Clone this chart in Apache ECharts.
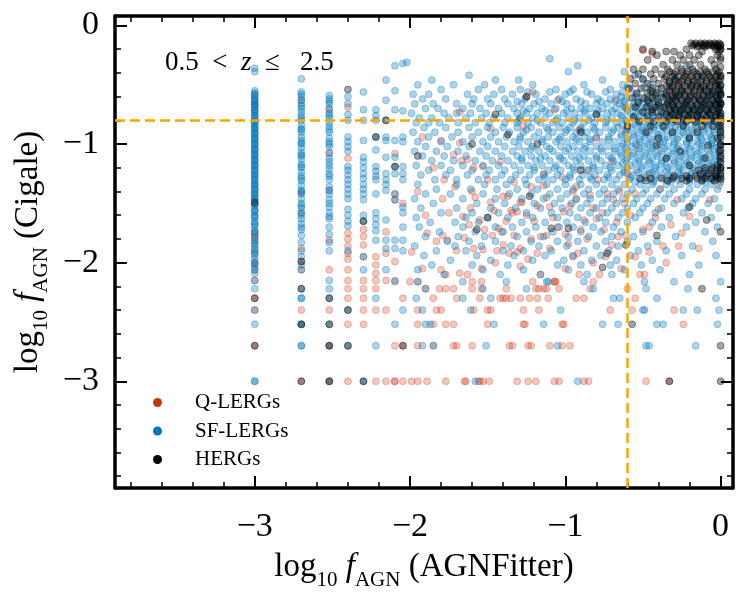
<!DOCTYPE html>
<html>
<head>
<meta charset="UTF-8">
<title>fAGN AGNFitter vs Cigale</title>
<script src="https://cdn.jsdelivr.net/npm/echarts@6.0.0/dist/echarts.min.js"></script>
<style>
    *{margin:0;padding:0}
    html,body{width:100%;height:100%;background:#fff}
    #main{width:747px;height:603px}
</style>
</head>
<body>
<div id="main"></div>
<script type="text/javascript">
// axis ranges and ticks (log10 fAGN)
var xRange = [-3.9, 0.08];
var yRange = [-3.9, 0.08];
var majorTicks = [-3, -2, -1, 0];
var minorTicks = [-3.8, -3.6, -3.4, -3.2, -2.8, -2.6, -2.4, -2.2, -1.8, -1.6, -1.4, -1.2, -0.8, -0.6, -0.4, -0.2];
var cutX = -0.6, cutY = -0.8;

// discrete AGNFitter columns at low fAGN: [x, [y...]]
var sfCols = [
    [-3.0, [-0.36,-0.39,-0.55,-0.57,-0.59,-0.61,-0.62,-0.64,-0.66,-0.67,-0.69,-0.71,-0.73,-0.74,-0.76,-0.78,-0.8,-0.81,-0.83,-0.85,-0.87,-0.88,-0.9,-0.92,-0.94,-0.95,-0.97,-0.99,-1.01,-1.03,-1.05,-1.06,-1.08,-1.1,-1.12,-1.14,-1.15,-1.17,-1.19,-1.21,-1.23,-1.25,-1.27,-1.29,-1.31,-1.33,-1.35,-1.37,-1.39,-1.41,-1.43,-1.45,-1.47,-1.5,-1.52,-1.55,-1.57,-1.6,-1.62,-1.65,-1.67,-1.7,-1.73,-1.76,-1.79,-1.82,-1.85,-1.88,-1.91,-1.94,-1.97,-2.0,-2.03,-2.06,-2.09,-2.15,-2.22,-2.4,-2.52,-3.0]],
    [-3.0, [-0.58,-0.63,-0.68,-0.72,-0.77,-0.82,-0.86,-0.91,-0.96,-1.0,-1.04,-1.09,-1.13,-1.18,-1.22,-1.26,-1.3,-1.34,-1.38,-1.42,-1.46,-1.51,-1.56,-1.61,-1.68,-1.75,-1.84,-1.92,-2.01,-3.0]],
    [-2.7, [-0.45,-0.56,-0.6,-0.63,-0.66,-0.7,-0.73,-0.76,-0.8,-0.84,-0.87,-0.9,-0.94,-0.97,-1.0,-1.03,-1.07,-1.1,-1.13,-1.17,-1.2,-1.24,-1.27,-1.31,-1.35,-1.39,-1.42,-1.46,-1.5,-1.54,-1.58,-1.63,-1.67,-1.72,-1.77,-1.83,-1.9,-1.95,-2.02,-2.06,-2.22,-2.3,-2.52,-2.7]],
    [-2.7, [-0.58,-0.68,-0.78,-0.88,-0.99,-1.09,-1.19,-1.29,-1.4,-1.52,-1.6,-1.7,-2.3,-2.52,-2.7]],
    [-2.52, [-0.59,-0.62,-0.66,-0.7,-0.74,-0.78,-0.82,-0.85,-0.9,-0.95,-0.98,-1.02,-1.07,-1.12,-1.18,-1.21,-1.25,-1.3,-1.36,-1.42,-1.47,-1.53,-1.58,-1.63,-1.7,-1.76,-1.83,-1.9,-2.15,-2.22,-2.3,-2.52,-2.7,-3.0]],
    [-2.52, [-0.64,-0.76,-0.88,-1.0,-1.15,-1.27,-1.39,-1.5,-1.61]],
    [-2.4, [-0.6,-0.66,-0.75,-0.8,-0.94,-0.98,-1.02,-1.06,-1.19,-1.22,-1.26,-1.3,-1.34,-1.38,-1.42,-1.46,-1.55,-1.6,-1.65,-1.69,-1.9,-2.4,-2.7]],
    [-2.3, [-0.56,-0.71,-0.8,-0.97,-1.11,-1.15,-1.2,-1.25,-1.29,-1.34,-1.38,-1.42,-1.47,-1.6,-1.65,-1.95,-2.06,-3.0]],
    [-2.22, [-0.71,-0.76,-0.8,-0.94,-1.05,-1.19,-1.23,-1.27,-1.3,-1.42,-1.58,-1.63,-1.68,-1.73,-1.81,-2.3,-2.7]],
    [-2.155, [-0.46,-0.63,-0.8,-0.94,-0.97,-1.11,-1.25,-1.3,-1.34,-1.39,-1.64,-1.81,-1.88,-2.06]],
    [-2.097, [-0.34,-0.55,-0.71,-0.97,-1.11,-1.19,-1.25,-1.42,-1.47,-1.81,-1.88,-2.16,-2.52]],
    [-2.046, [-0.32,-0.72,-0.94,-0.98,-1.19,-1.25,-1.3,-1.53,-1.58,-1.7,-1.81,-1.9,-2.4]]
];
var qCols = [
    [-3.0, [-0.66,-1.74,-1.78,-1.81,-1.89,-2.0,-2.06,-2.15,-2.3,-2.4,-2.7]],
    [-2.7, [-0.63,-1.41,-1.58,-1.88,-1.99,-2.06,-2.4,-3.0]],
    [-2.52, [-0.71,-1.08,-1.39,-1.81,-2.06,-2.4,-2.7,-3.0]],
    [-2.4, [-0.69,-1.12,-1.75,-1.8,-1.86,-1.92,-1.97,-2.06,-2.15,-2.22,-2.3,-2.52,-3.0]],
    [-2.3, [-1.72,-1.78,-1.85,-1.95,-2.15,-2.22,-2.3,-2.4,-2.52]],
    [-2.22, [-1.95,-2.02,-2.09,-2.15,-2.22,-2.4,-3.0]],
    [-2.155, [-1.74,-1.92,-2.15,-2.4,-3.0]],
    [-2.097, [-1.08,-1.42,-1.47,-1.99,-2.15,-2.7,-3.0]],
    [-2.046, [-1.5,-2.3,-2.7,-3.0]]
];
var hCols = [
    [-3.0, [-1.49,-2.3,-2.7]],
    [-2.7, [-1.99,-2.22,-2.52,-3.0]],
    [-2.52, [-2.3,-2.52,-2.7,-3.0]],
    [-2.4, [-0.54,-2.4,-2.7]],
    [-2.3, [-1.65,-3.0]],
    [-2.22, [-0.94]],
    [-2.155, [-0.8]],
    [-2.097, [-1.19]],
    [-2.046, [-2.7]],
    [0.0, [-0.2,-0.27,-0.35,-0.42,-0.5,-0.58,-0.66,-0.74,-0.82,-0.88,-0.94,-1.0,-1.05,-1.1,-1.15,-1.2,-1.27]]
];

// continuous part, read row by row: [y, [x...]]
var sfRows = [
    [-0.28, [-1.1]],
    [-0.31, [-2.02]],
    [-0.34, [-0.92,-0.22]],
    [-0.39, [-0.98,-0.62]],
    [-0.42, [-1.62,-0.55,-0.12]],
    [-0.46, [-1.86,-1.45,-1.3,-0.76,-0.5,-0.3,-0.04]],
    [-0.50, [-1.95,-1.72,-1.52,-1.21,-0.88,-0.63,-0.45,-0.18,-0.02]],
    [-0.54, [-1.8,-1.56,-1.41,-1.29,-1.06,-0.95,-0.71,-0.58,-0.4,-0.1,0.0]],
    [-0.58, [-1.98,-1.88,-1.63,-1.46,-1.34,-1.19,-1.0,-0.83,-0.67,-0.54,-0.36,-0.27,-0.06,0.0]],
    [-0.62, [-1.92,-1.77,-1.59,-1.5,-1.39,-1.26,-1.13,-1.04,-0.93,-0.79,-0.71,-0.61,-0.49,-0.41,-0.31,-0.14,-0.03]],
    [-0.66, [-1.97,-1.85,-1.7,-1.6,-1.48,-1.37,-1.28,-1.2,-1.09,-0.99,-0.87,-0.8,-0.73,-0.65,-0.56,-0.51,-0.44,-0.34,-0.23,-0.11,-0.05,0.0]],
    [-0.70, [-1.9,-1.82,-1.66,-1.55,-1.43,-1.33,-1.23,-1.15,-1.06,-0.96,-0.9,-0.84,-0.76,-0.68,-0.61,-0.54,-0.47,-0.39,-0.3,-0.25,-0.16,-0.08,-0.01]],
    [-0.74, [-1.99,-1.78,-1.7,-1.61,-1.51,-1.41,-1.31,-1.25,-1.18,-1.1,-1.01,-0.94,-0.87,-0.8,-0.73,-0.66,-0.58,-0.51,-0.44,-0.37,-0.29,-0.21,-0.14,-0.07,0.0]],
    [-0.78, [-1.94,-1.86,-1.75,-1.64,-1.54,-1.46,-1.37,-1.29,-1.21,-1.13,-1.05,-0.98,-0.91,-0.83,-0.77,-0.7,-0.63,-0.56,-0.49,-0.42,-0.35,-0.27,-0.19,-0.12,-0.04]],
    [-0.82, [-1.96,-1.88,-1.81,-1.69,-1.58,-1.49,-1.39,-1.31,-1.24,-1.16,-1.08,-1.02,-0.95,-0.88,-0.81,-0.74,-0.67,-0.6,-0.53,-0.46,-0.39,-0.32,-0.25,-0.17,-0.09,-0.02]],
    [-0.86, [-1.91,-1.77,-1.62,-1.5,-1.4,-1.31,-1.22,-1.12,-1.04,-0.97,-0.9,-0.82,-0.74,-0.66,-0.57,-0.5,-0.43,-0.36,-0.29,-0.22,-0.15,-0.08,-0.01]],
    [-0.90, [-1.98,-1.84,-1.69,-1.56,-1.45,-1.36,-1.27,-1.17,-1.08,-1.0,-0.93,-0.86,-0.78,-0.7,-0.61,-0.53,-0.46,-0.38,-0.31,-0.24,-0.18,-0.11,-0.04]],
    [-0.94, [-1.88,-1.73,-1.6,-1.48,-1.38,-1.29,-1.2,-1.11,-1.03,-0.95,-0.88,-0.8,-0.72,-0.64,-0.56,-0.49,-0.41,-0.34,-0.27,-0.2,-0.13,-0.06,0.0]],
    [-0.98, [-1.95,-1.8,-1.66,-1.53,-1.43,-1.33,-1.24,-1.15,-1.06,-0.99,-0.91,-0.84,-0.76,-0.68,-0.6,-0.52,-0.45,-0.37,-0.3,-0.22,-0.15,-0.09,-0.02]],
    [-1.02, [-1.9,-1.76,-1.62,-1.5,-1.39,-1.3,-1.21,-1.12,-1.03,-0.95,-0.87,-0.8,-0.72,-0.64,-0.57,-0.49,-0.42,-0.34,-0.27,-0.19,-0.12,-0.05]],
    [-1.06, [-1.97,-1.83,-1.69,-1.55,-1.45,-1.34,-1.26,-1.17,-1.08,-1.0,-0.92,-0.84,-0.76,-0.68,-0.6,-0.53,-0.45,-0.38,-0.3,-0.23,-0.16,-0.08,0.0]],
    [-1.10, [-1.92,-1.78,-1.64,-1.51,-1.41,-1.31,-1.22,-1.13,-1.04,-0.96,-0.88,-0.8,-0.72,-0.64,-0.57,-0.49,-0.41,-0.34,-0.26,-0.19,-0.12,-0.04]],
    [-1.14, [-1.86,-1.72,-1.58,-1.47,-1.37,-1.28,-1.19,-1.1,-1.01,-0.93,-0.85,-0.77,-0.69,-0.61,-0.53,-0.46,-0.38,-0.3,-0.23,-0.15,-0.08,-0.01]],
    [-1.18, [-1.96,-1.8,-1.66,-1.53,-1.43,-1.33,-1.24,-1.15,-1.06,-0.98,-0.9,-0.82,-0.74,-0.66,-0.58,-0.5,-0.42,-0.35,-0.27,-0.2,-0.12,-0.05]],
    [-1.22, [-1.88,-1.74,-1.6,-1.49,-1.39,-1.29,-1.2,-1.11,-1.03,-0.94,-0.86,-0.78,-0.7,-0.62,-0.54,-0.46,-0.39,-0.31,-0.24,-0.16,-0.09,-0.02]],
    [-1.26, [-1.93,-1.77,-1.63,-1.51,-1.41,-1.32,-1.23,-1.14,-1.05,-0.97,-0.89,-0.81,-0.73,-0.65,-0.57,-0.49,-0.42,-0.34,-0.26,-0.19,-0.11,-0.04]],
    [-1.30, [-1.84,-1.7,-1.56,-1.45,-1.35,-1.26,-1.17,-1.08,-1.0,-0.91,-0.83,-0.75,-0.67,-0.59,-0.51,-0.43,-0.35,-0.27,-0.2,-0.12,-0.05,0.0]],
    [-1.34, [-1.95,-1.7,-1.52,-1.38,-1.25,-1.12,-1.0,-0.9,-0.8,-0.7,-0.62,-0.52,-0.44,-0.35,-0.26,-0.15,-0.06]],
    [-1.38, [-1.83,-1.61,-1.44,-1.31,-1.18,-1.05,-0.95,-0.85,-0.75,-0.66,-0.57,-0.48,-0.39,-0.3,-0.2,-0.1,-0.02]],
    [-1.42, [-1.9,-1.74,-1.53,-1.36,-1.22,-1.1,-0.99,-0.88,-0.78,-0.69,-0.6,-0.5,-0.41,-0.33,-0.22,-0.12]],
    [-1.46, [-1.97,-1.66,-1.45,-1.28,-1.14,-1.03,-0.93,-0.84,-0.73,-0.63,-0.54,-0.45,-0.36,-0.25,-0.16,-0.04]],
    [-1.50, [-1.85,-1.57,-1.39,-1.2,-1.07,-0.96,-0.86,-0.76,-0.67,-0.56,-0.47,-0.3,-0.18,-0.08]],
    [-1.54, [-1.93,-1.7,-1.48,-1.32,-1.16,-1.02,-0.9,-0.8,-0.7,-0.6,-0.5,-0.38,-0.21,-0.01]],
    [-1.58, [-1.8,-1.6,-1.43,-1.25,-1.09,-0.97,-0.84,-0.73,-0.63,-0.52,-0.42,-0.24,-0.12]],
    [-1.62, [-1.96,-1.64,-1.5,-1.37,-1.21,-1.05,-0.92,-0.78,-0.66,-0.55,-0.33,-0.06]],
    [-1.66, [-1.87,-1.71,-1.56,-1.28,-1.13,-0.99,-0.87,-0.74,-0.6,-0.44,-0.16]],
    [-1.70, [-1.94,-1.66,-1.45,-1.34,-1.19,-1.04,-0.95,-0.82,-0.69,-0.38,-0.22,-0.02]],
    [-1.74, [-1.81,-1.58,-1.4,-1.25,-1.08,-0.9,-0.77,-0.64,-0.5,-0.1]],
    [-1.78, [-1.9,-1.69,-1.52,-1.31,-1.14,-0.98,-0.85,-0.7,-0.56,-0.29]],
    [-1.82, [-1.76,-1.62,-1.45,-1.22,-1.05,-0.92,-0.74,-0.6,-0.41,-0.05]],
    [-1.86, [-1.97,-1.71,-1.54,-1.35,-1.17,-0.99,-0.8,-0.66,-0.47,-0.18]],
    [-1.90, [-1.83,-1.64,-1.4,-1.27,-1.09,-0.88,-0.72,-0.53,-0.35]],
    [-1.94, [-1.91,-1.57,-1.33,-1.13,-0.95,-0.77,-0.58,-0.25,-0.03]],
    [-1.98, [-1.74,-1.48,-1.21,-1.01,-0.83,-0.67,-0.44]],
    [-2.02, [-1.86,-1.6,-1.37,-1.05,-0.9,-0.71,-0.51,-0.14]],
    [-2.06, [-1.95,-1.53,-1.27,-0.98,-0.62,-0.39]],
    [-2.10, [-1.78,-1.42,-1.16,-0.86,-0.7,-0.2]],
    [-2.16, [-1.95,-1.66,-1.38,-1.12,-1.11,-0.88,-0.49,-0.3,0.0]],
    [-2.22, [-1.9,-1.53,-1.25,-0.82,-0.48,-0.21]],
    [-2.30, [-1.96,-1.66,-1.48,-0.69,-0.65,-0.41,-0.03]],
    [-2.40, [-1.92,-1.61,-1.03,-0.5,-0.49,-0.24,-0.15,-0.01]],
    [-2.52, [-1.9,-1.87,-1.46,-1.14,-0.76,-0.66,-0.41,-0.37,-0.02]],
    [-2.70, [-1.92,-1.85,-1.51,-1.05,-0.48,-0.46,-0.16]],
    [-3.00, [-1.58,-0.92]]
];
// extra SF-LERGs in the crowded middle and right of the cloud
var sfMidRows = [
    [-0.56, [-1.24,-1.1,-0.97,-0.86,-0.74]],
    [-0.64, [-1.31,-1.17,-1.02,-0.9,-0.77,-0.68]],
    [-0.72, [-1.27,-1.13,-0.99,-0.88,-0.79,-0.7]],
    [-0.80, [-1.3,-1.18,-1.06,-0.94,-0.85,-0.73]],
    [-0.88, [-1.25,-1.11,-0.99,-0.9,-0.81,-0.69]],
    [-0.96, [-1.29,-1.15,-1.04,-0.93,-0.84,-0.72]],
    [-1.04, [-1.22,-1.1,-0.98,-0.88,-0.77,-0.68]],
    [-1.12, [-1.28,-1.16,-1.03,-0.91,-0.8,-0.7]],
    [-1.20, [-1.2,-1.07,-0.95,-0.82,-0.71]],
    [-1.28, [-1.13,-0.97,-0.84,-0.72]]
];
var sfRightRows = [
    [-0.52, [-0.6,-0.49,-0.33,-0.13]],
    [-0.56, [-0.63,-0.44,-0.25,-0.05]],
    [-0.60, [-0.64,-0.55,-0.46,-0.38,-0.29,-0.19,-0.09]],
    [-0.64, [-0.62,-0.53,-0.42,-0.32,-0.22,-0.12,-0.02]],
    [-0.68, [-0.63,-0.56,-0.47,-0.39,-0.3,-0.21,-0.13,-0.06]],
    [-0.72, [-0.6,-0.52,-0.43,-0.35,-0.26,-0.18,-0.1,-0.03]],
    [-0.76, [-0.64,-0.55,-0.47,-0.39,-0.31,-0.23,-0.15,-0.07,0.0]],
    [-0.80, [-0.61,-0.53,-0.45,-0.37,-0.29,-0.21,-0.13,-0.05]],
    [-0.84, [-0.63,-0.55,-0.47,-0.4,-0.32,-0.24,-0.16,-0.08,-0.01]],
    [-0.88, [-0.6,-0.51,-0.43,-0.35,-0.27,-0.19,-0.11,-0.04]],
    [-0.92, [-0.64,-0.56,-0.48,-0.4,-0.31,-0.23,-0.15,-0.07,0.0]],
    [-0.96, [-0.6,-0.52,-0.44,-0.36,-0.28,-0.2,-0.12,-0.05]],
    [-1.00, [-0.63,-0.55,-0.47,-0.39,-0.3,-0.22,-0.14,-0.06,0.0]],
    [-1.04, [-0.61,-0.52,-0.44,-0.36,-0.28,-0.2,-0.12,-0.04]],
    [-1.08, [-0.64,-0.56,-0.48,-0.4,-0.31,-0.23,-0.15,-0.07,0.0]],
    [-1.12, [-0.6,-0.52,-0.44,-0.35,-0.27,-0.19,-0.11,-0.03]],
    [-1.16, [-0.63,-0.55,-0.46,-0.38,-0.3,-0.22,-0.14,-0.06,0.0]],
    [-1.20, [-0.6,-0.51,-0.42,-0.34,-0.26,-0.18,-0.1,-0.02]],
    [-1.24, [-0.62,-0.53,-0.44,-0.35,-0.27,-0.19,-0.11,-0.04]],
    [-1.28, [-0.58,-0.48,-0.39,-0.3,-0.21,-0.12,-0.05]],
    [-1.32, [-0.55,-0.43,-0.32,-0.2,-0.1,0.0]]
];
var qPts = [
    [-1.67,-1.14],[-1.59,-1.2],[-1.53,-1.19],[-1.42,-1.15],[-1.71,-1.36],[-1.79,-1.46],[-1.75,-1.58],[-1.66,-1.61],
    [-1.61,-1.54],[-1.55,-1.64],[-1.48,-1.49],[-1.4,-1.44],[-1.35,-1.56],[-1.31,-1.57],[-1.28,-1.49],[-1.43,-1.71],
    [-1.33,-1.77],[-1.29,-1.88],[-1.79,-1.77],[-1.65,-1.79],[-1.59,-1.88],[-1.53,-1.89],[-1.47,-1.77],[-1.41,-1.74],
    [-1.36,-1.92],[-1.31,-1.91],[-1.18,-1.92],[-1.16,-1.78],[-1.12,-1.77],[-1.1,-1.53],[-1.01,-1.57],[-0.95,-1.4],
    [-0.93,-1.47],[-0.88,-1.64],[-0.82,-1.54],[-0.8,-1.63],[-0.73,-1.42],[-0.69,-1.47],[-0.65,-1.4],[-0.61,-1.77],
    [-0.5,-1.72],[-0.46,-1.7],[-0.28,-1.47],[-0.2,-1.61],[-0.07,-1.47],[-0.01,-1.35],[-1.0,-2.05],[-1.16,-2.1],
    [-1.07,-2.16],[-0.91,-2.1],[-1.63,-2.1],[-1.77,-2.1],[-1.54,-2.05],[-0.82,-2.0],[-1.29,-2.03],[-0.52,-2.1],
    [-0.49,-2.1],[-0.35,-2.0],[-0.46,-1.91],[-0.37,-1.86],[-0.27,-1.86],[-1.72,-1.09],[-1.68,-0.99],[-1.48,-0.87],
    [-1.27,-0.85],[-1.8,-0.97],[-0.91,-0.88],[-0.8,-0.95],[-0.61,-0.88],[-0.5,-0.21],[-0.44,-0.24],[-1.21,-0.56],
    [-1.25,-0.6],[-1.05,-0.63],[-1.07,-0.71],[-0.67,-0.63],[-0.61,-0.69],[-1.29,-0.78],[-0.54,-1.01],[-0.46,-1.25],
    [-1.14,-1.25],[-0.93,-1.36],[-1.34,-1.58],[-1.29,-1.49],[-1.92,-0.94],[-1.68,-0.73],[-1.89,-1.75],[-1.83,-1.82],
    [-1.76,-1.81],[-1.78,-1.3],[-1.63,-1.13],[-1.99,-1.91],[-1.92,-2.05],[-1.8,-2.06],[-1.68,-2.09],[-1.2,-1.65],
    [-1.05,-1.7],[-0.98,-1.84],[-0.86,-1.8],[-0.75,-1.72],[-0.7,-1.85],[-0.58,-1.6],[-0.55,-1.95],[-0.4,-1.55],
    [-0.32,-1.68],[-1.45,-2.0],[-1.38,-1.65],[-1.22,-1.36],[-1.5,-1.3],[-1.6,-1.4],[-0.85,-1.22],[-0.7,-1.15],
    [-0.39,-1.38],[-0.25,-1.75],[-0.14,-1.88],[-1.12,-1.45],[-1.02,-1.28],[-1.9,-1.6],[-1.85,-1.2],[-1.95,-1.4],
    [-0.95,-1.95],[-1.24,-1.97],[-1.4,-1.85],[-0.64,-2.05],[-0.78,-2.1],
    [-1.58,-1.45],[-1.46,-1.56],[-1.37,-1.44],[-1.25,-1.6],[-1.18,-1.52],[-1.08,-1.62],[-0.97,-1.52],[-0.9,-1.72],
    [-0.84,-1.43],[-0.76,-1.58],[-0.67,-1.66],[-0.62,-1.5],[-0.55,-1.42],[-1.52,-1.72],[-1.44,-1.9],[-1.22,-1.8],
    [-1.1,-1.88],[-1.0,-1.76],[-0.92,-1.92],[-0.74,-1.95],[-0.66,-1.78],[-1.7,-1.9],[-1.62,-1.68],[-1.33,-1.32],
    [-1.14,-1.35],[-0.79,-1.3],[-0.6,-1.25],[-0.42,-1.62]
];
var qRows = [
    [-2.16, [-2.0,-1.95,-1.6,-1.54,-1.21,-1.07,-1.06,-0.82]],
    [-2.22, [-1.9,-1.81,-1.77,-1.72,-1.6,-1.54,-1.38,-1.19,-1.17,-1.14,-1.12,-1.04,-0.84,-0.6]],
    [-2.30, [-1.85,-1.7,-1.55,-1.42,-1.4,-1.38,-1.35,-1.29,-1.23,-1.18,-1.11,-0.93,-0.88,-0.55]],
    [-2.40, [-1.95,-1.83,-1.8,-1.59,-1.5,-1.48,-1.27,-1.17,-0.71,-0.57,-0.3]],
    [-2.52, [-1.95,-1.85,-1.77,-1.72,-1.5,-1.27,-1.26,-1.02,-1.01,-0.24]],
    [-2.70, [-1.95,-1.85,-1.72,-1.7,-1.6,-1.36,-1.34,-1.24,-1.22,-1.1,-1.02,-0.97]],
    [-3.00, [-2.1,-1.99,-1.95,-1.89,-1.77,-1.65,-1.64,-1.56,-1.55,-1.53,-1.49,-1.31,-1.24,-1.19,-1.07,-1.04,-0.88,-0.85,-0.48,-0.33]]
];
var hRows = [
    [-0.15, [-0.19,-0.16,-0.13,-0.1,-0.07,-0.04,-0.01]],
    [-0.16, [-0.17,-0.12,-0.09,-0.06,-0.03,0.0]],
    [-0.17, [-0.18,-0.14,-0.11,-0.08,-0.05,-0.02,0.0]],
    [-0.18, [-0.15,-0.1,-0.04,-0.01]],
    [-0.20, [-0.5,-0.22,-0.03,0.0]],
    [-0.22, [-0.44,-0.35,-0.3,-0.12,-0.01]],
    [-0.25, [-0.41,-0.26,-0.2,-0.14,-0.02]],
    [-0.29, [-0.47,-0.31,-0.24,-0.17,-0.06,0.0]],
    [-0.33, [-0.37,-0.28,-0.2,-0.13,-0.04]],
    [-0.37, [-0.56,-0.5,-0.42,-0.34,-0.25,-0.18,-0.1,-0.03]],
    [-0.39, [-0.33,-0.29,-0.25,-0.21,-0.17,-0.13,-0.09,-0.05,-0.01]],
    [-0.41, [-0.53,-0.45,-0.38,-0.3,-0.22,-0.15,-0.08,-0.02]],
    [-0.43, [-0.35,-0.31,-0.27,-0.23,-0.19,-0.15,-0.11,-0.07,-0.03,0.0]],
    [-0.45, [-0.58,-0.5,-0.43,-0.36,-0.29,-0.24,-0.18,-0.12,-0.06,0.0]],
    [-0.47, [-0.33,-0.29,-0.25,-0.21,-0.17,-0.13,-0.09,-0.05,-0.01]],
    [-0.49, [-0.55,-0.47,-0.4,-0.33,-0.27,-0.21,-0.15,-0.09,-0.03]],
    [-0.51, [-0.35,-0.31,-0.27,-0.23,-0.19,-0.15,-0.11,-0.07,-0.03,0.0]],
    [-0.53, [-0.59,-0.51,-0.44,-0.38,-0.31,-0.25,-0.19,-0.13,-0.07,-0.01]],
    [-0.55, [-0.45,-0.33,-0.29,-0.25,-0.21,-0.17,-0.13,-0.09,-0.05,-0.01]],
    [-0.57, [-0.54,-0.47,-0.41,-0.35,-0.29,-0.23,-0.17,-0.11,-0.05,0.0]],
    [-0.59, [-0.42,-0.35,-0.31,-0.27,-0.23,-0.19,-0.15,-0.11,-0.07,-0.03,0.0]],
    [-0.61, [-0.57,-0.5,-0.44,-0.37,-0.31,-0.26,-0.2,-0.14,-0.08,-0.02]],
    [-0.63, [-0.47,-0.33,-0.29,-0.25,-0.21,-0.17,-0.13,-0.09,-0.05,-0.01]],
    [-0.65, [-0.53,-0.46,-0.4,-0.34,-0.28,-0.22,-0.16,-0.1,-0.04,0.0]],
    [-0.67, [-0.4,-0.35,-0.31,-0.27,-0.23,-0.19,-0.15,-0.11,-0.07,-0.03,0.0]],
    [-0.69, [-0.55,-0.48,-0.42,-0.36,-0.3,-0.24,-0.18,-0.12,-0.06,-0.01]],
    [-0.71, [-0.44,-0.33,-0.29,-0.25,-0.21,-0.17,-0.13,-0.09,-0.05,-0.01]],
    [-0.73, [-0.5,-0.44,-0.38,-0.32,-0.26,-0.2,-0.14,-0.08,-0.02]],
    [-0.75, [-0.35,-0.31,-0.27,-0.23,-0.19,-0.15,-0.11,-0.07,-0.03]],
    [-0.77, [-0.56,-0.47,-0.4,-0.33,-0.27,-0.21,-0.15,-0.09,-0.03,0.0]],
    [-0.79, [-0.3,-0.24,-0.18,-0.12,-0.06,0.0]],
    [-0.81, [-0.52,-0.43,-0.35,-0.28,-0.22,-0.16,-0.1,-0.04]],
    [-0.85, [-0.6,-0.45,-0.37,-0.24,-0.12,-0.05,0.0]],
    [-0.90, [-0.9,-0.48,-0.31,-0.15,0.0]],
    [-0.95, [-0.4,-0.2,-0.02]],
    [-1.01, [-0.41,-0.08,0.0]],
    [-1.06, [-0.26,-0.01]],
    [-1.12, [-0.35,-0.1,0.0]],
    [-1.18, [-0.2,-0.02]],
    [-1.20, [-0.1,-0.05,0.0]],
    [-1.22, [-0.9,-0.14,-0.06,0.0]],
    [-1.25, [-0.13,-0.08,-0.03,0.0]],
    [-1.27, [-0.3,-0.22,-0.16,-0.09,-0.03]],
    [-1.29, [-0.52,-0.45,-0.38,-0.31,-0.25,-0.2,-0.15,-0.1,-0.06,-0.02,0.0]],
    [-1.31, [-0.48,-0.34,-0.22,-0.12,-0.04]],
    [-0.92, [-1.37]],
    [-1.00, [-1.6,-1.18]],
    [-0.75, [-1.45,-0.8]],
    [-0.60, [-1.25]],
    [-1.10, [-1.95]],
    [-1.44, [-1.23]],
    [-1.53, [-0.2]],
    [-1.62, [-1.5]],
    [-1.64, [-0.09]],
    [-1.71, [-1.09,-0.98]],
    [-1.72, [-1.57]],
    [-1.74, [0.0]],
    [-1.77, [-0.41]],
    [-1.85, [-0.61]],
    [-1.92, [-0.73]],
    [-2.04, [-0.76]],
    [-2.22, [-0.12]],
    [-2.52, [-0.57]],
    [-2.70, [0.0]],
    [-3.00, [-0.33,0.0]]
];

var FONT = 'Liberation Serif';
var NB = '\u00a0';

function fromCols(out, cols) {
    cols.forEach(function (c) { c[1].forEach(function (y) { out.push([c[0], y]); }); });
    return out;
}
function fromRows(out, rows) {
    rows.forEach(function (r) { r[1].forEach(function (x) { out.push([x, r[0]]); }); });
    return out;
}
var qData = fromRows(fromCols(qPts.slice(), qCols), qRows);
var sfData = fromRows(fromRows(fromRows(fromCols([], sfCols), sfRows), sfMidRows), sfRightRows);
var hData = fromRows(fromCols([], hCols), hRows);

function minus(v) { return v < 0 ? '\u2212' + (-v) : String(v); }

var nameRich = {
    r: {fontSize: 33, fontFamily: FONT, color: '#000', lineHeight: 36},
    i: {fontSize: 33, fontFamily: FONT, fontStyle: 'italic', color: '#000', lineHeight: 36},
    s: {fontSize: 21, fontFamily: FONT, color: '#000', verticalAlign: 'top', padding: [21, 0, 0, 0], lineHeight: 21}
};

function xAx(pos, major, main) {
    var a = {
        type: 'value', position: pos, min: xRange[0], max: xRange[1],
        axisLine: {show: major, onZero: false, lineStyle: {color: '#000', width: 3.5}},
        axisTick: {inside: true, length: major ? 12 : 6, lineStyle: {color: '#000', width: major ? 2 : 1.5},
            customValues: major ? majorTicks : minorTicks},
        axisLabel: {show: main, customValues: majorTicks, formatter: minus,
            fontFamily: FONT, fontSize: 34, color: '#000', margin: 22},
        splitLine: {show: false}
    };
    if (main) {
        a.name = '{r|log}{s|10}{i|' + NB + 'f}{s|AGN}{r|' + NB + '(AGNFitter)}';
        a.nameLocation = 'middle';
        a.nameGap = 57;
        a.nameTextStyle = {rich: nameRich};
    }
    return a;
}
function yAx(pos, major, main) {
    var a = {
        type: 'value', position: pos, min: yRange[0], max: yRange[1],
        axisLine: {show: major, onZero: false, lineStyle: {color: '#000', width: 3.5}},
        axisTick: {inside: true, length: major ? 12 : 6, lineStyle: {color: '#000', width: major ? 2 : 1.5},
            customValues: major ? majorTicks : minorTicks},
        axisLabel: {show: main, customValues: majorTicks, formatter: minus,
            fontFamily: FONT, fontSize: 34, color: '#000', margin: 16},
        splitLine: {show: false}
    };
    if (main) {
        a.name = '{r|log}{s|10}{i|' + NB + 'f}{s|AGN}{r|' + NB + '(Cigale)}';
        a.nameLocation = 'middle';
        a.nameGap = 64;
        a.nameTextStyle = {rich: nameRich};
    }
    return a;
}

// the crowded SF-LERG and HERG clouds get a little more opacity
function pts(name, data, rgb, a) {
    return {
        name: name, type: 'scatter', data: data, symbolSize: 7,
        itemStyle: {color: 'rgba(' + rgb + ',' + a + ')', borderColor: 'rgba(' + rgb + ',' + a + ')', borderWidth: 1},
        emphasis: {disabled: true}
    };
}

var myChart = echarts.init(document.getElementById('main'));
var hergs = pts('HERGs', hData, '0,0,0', 0.45);
hergs.markLine = {
    silent: true, symbol: ['none', 'none'], animation: false,
    label: {show: false},
    lineStyle: {color: '#FFA500', type: [10, 5], width: 2.5},
    data: [{xAxis: cutX}, {yAxis: cutY}]
};

var option = {
    animation: false,
    backgroundColor: '#fff',
    grid: {left: 115, right: 14, top: 16, bottom: 115},
    xAxis: [xAx('bottom', true, true), xAx('bottom', false, false), xAx('top', true, false), xAx('top', false, false)],
    yAxis: [yAx('left', true, true), yAx('left', false, false), yAx('right', true, false), yAx('right', false, false)],
    legend: {
        left: 148, top: 387, orient: 'vertical', itemGap: 7.5, itemWidth: 9, itemHeight: 9, icon: 'circle',
        data: [
            {name: 'Q-LERGs', itemStyle: {color: '#CC3311', opacity: 1, borderWidth: 0}},
            {name: 'SF-LERGs', itemStyle: {color: '#0077BB', opacity: 1, borderWidth: 0}},
            {name: 'HERGs', itemStyle: {color: '#000000', opacity: 1, borderWidth: 0}}
        ],
        formatter: function (n) { return '{g|}{t|' + n + '}'; },
        textStyle: {rich: {g: {width: 28}, t: {fontSize: 21, fontFamily: FONT, color: '#000', lineHeight: 21}}}
    },
    graphic: [{
        type: 'text', left: 165, top: 49,
        style: {
            text: '{r|0.5' + NB + NB + '<' + NB + NB + '}{i|z}{r|' + NB + NB + '\u2264' + NB + NB + NB + '2.5}',
            rich: {
                r: {fontSize: 27, fontFamily: FONT, fill: '#000'},
                i: {fontSize: 27, fontFamily: FONT, fontStyle: 'italic', fill: '#000'}
            }
        }
    }],
    series: [
        pts('Q-LERGs', qData, '204,51,17', 0.34),
        pts('SF-LERGs', sfData, '0,119,187', 0.4),
        hergs
    ]
};
myChart.setOption(option);
</script>
</body>
</html>
